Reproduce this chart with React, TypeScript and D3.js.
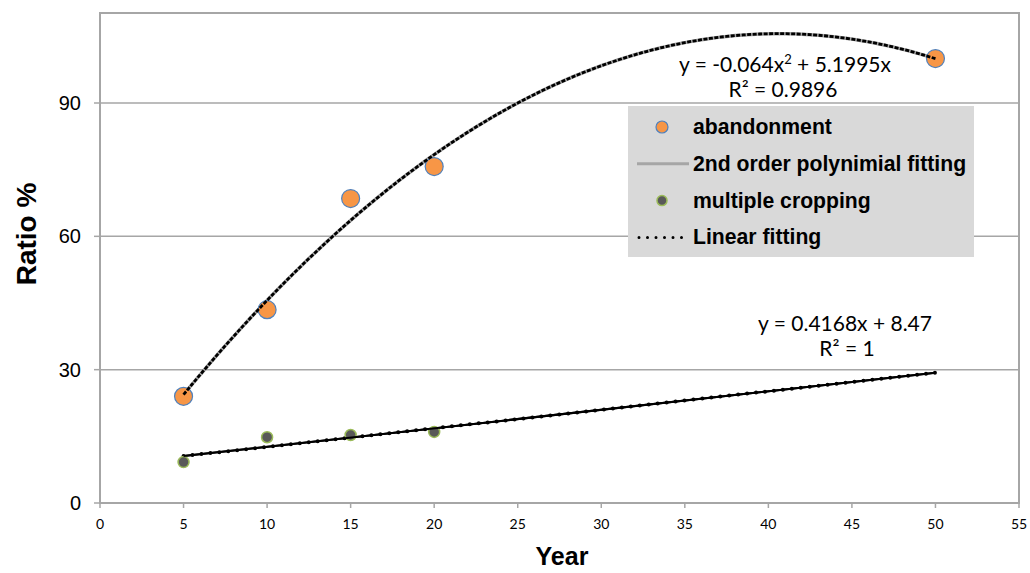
import React from "react";
import * as d3 from "d3";

const abandonYears = [5, 10, 15, 20, 50];
const abandonValues = [24, 43.5, 68.5, 75.7, 100];
const croppingYears = [5, 10, 15, 20];
const croppingValues = [9.2, 14.8, 15.3, 16.0];
const xTicks = [0, 5, 10, 15, 20, 25, 30, 35, 40, 45, 50, 55];
const yTicks = [0, 30, 60, 90];
const polyCoef = [-0.064, 5.1995];
const linCoef = [0.4168, 8.47];
const legendItems = ["abandonment", "2nd order polynimial fitting", "multiple cropping", "Linear fitting"];

const W = 1030, H = 573;
const L = 100, R = 1019, T = 13, B = 503;

export default function App() {
  const x = d3.scaleLinear().domain([0, 55]).range([L, R]);
  const y = d3.scaleLinear().domain([0, 110.25]).range([B, T]);

  const polyPts: [number, number][] = d3.range(5, 50.01, 0.5).map((v) => [v, polyCoef[0] * v * v + polyCoef[1] * v]);
  const linPts: [number, number][] = [5, 50].map((v) => [v, linCoef[0] * v + linCoef[1]]);
  const line = d3.line<[number, number]>().x((d) => x(d[0])).y((d) => y(d[1])).curve(d3.curveLinear);

  const eqFont = "Lato, 'Open Sans', sans-serif";
  const arial = "'Liberation Sans', Arial, sans-serif";
  const lx = 628, ly = 106;

  return (
    <svg width={W} height={H} style={{ position: "absolute", left: 0, top: 0, background: "#fff" }}>
      {yTicks.filter((t) => t > 0).map((t) => (
        <line key={"g" + t} x1={L} x2={R} y1={y(t)} y2={y(t)} stroke="#a6a6a6" strokeWidth={1.5} />
      ))}
      <rect x={L} y={T} width={R - L} height={B - T} fill="none" stroke="#a6a6a6" strokeWidth={2} />
      {yTicks.map((t) => (
        <g key={"y" + t}>
          <line x1={L - 6} x2={L} y1={y(t)} y2={y(t)} stroke="#a6a6a6" strokeWidth={1.5} />
          <text x={81} y={y(t) + 7} textAnchor="end" fontSize={20} fontFamily={arial} fill="#000">{t}</text>
        </g>
      ))}
      {xTicks.map((t) => (
        <g key={"x" + t}>
          <line x1={x(t)} x2={x(t)} y1={B} y2={B + 5} stroke="#a6a6a6" strokeWidth={1.5} />
          <text x={x(t)} y={529} textAnchor="middle" fontSize={14} fontFamily={eqFont} fill="#000">{t}</text>
        </g>
      ))}
      <text x={562} y={565} textAnchor="middle" fontSize={25} fontWeight="bold" fontFamily={arial}>Year</text>
      <text transform={`translate(36,${234}) rotate(-90)`} textAnchor="middle" fontSize={28} fontWeight="bold" fontFamily={arial}>Ratio %</text>

      <path d={line(polyPts) || ""} fill="none" stroke="#a6a6a6" strokeWidth={3.5} />
      <path d={line(linPts) || ""} fill="none" stroke="#000" strokeWidth={2} />
      <path d={line(linPts) || ""} fill="none" stroke="#000" strokeWidth={4} strokeDasharray="0,9" strokeLinecap="round" />

      {abandonYears.map((v, i) => (
        <circle key={"a" + i} cx={x(v)} cy={y(abandonValues[i])} r={9} fill="#f79646" stroke="#4f81bd" strokeWidth={1.2} />
      ))}
      {croppingYears.map((v, i) => (
        <circle key={"c" + i} cx={x(v)} cy={y(croppingValues[i])} r={5.5} fill="#595959" stroke="#9bbb59" strokeWidth={1.5} />
      ))}
      <path d={line(polyPts) || ""} fill="none" stroke="#000" strokeWidth={2.8} strokeDasharray="4,1.5" />
      <path d={line(linPts) || ""} fill="none" stroke="#000" strokeWidth={2} />

      <text x={785} y={72} textAnchor="middle" fontSize={21} fontFamily={eqFont} fill="#000">
        y = -0.064x<tspan dy={-8} fontSize={13}>2</tspan><tspan dy={8}> + 5.1995x</tspan>
      </text>
      <text x={783} y={97} textAnchor="middle" fontSize={21} fontFamily={eqFont} fill="#000">R² = 0.9896</text>
      <text x={845} y={331} textAnchor="middle" fontSize={21} fontFamily={eqFont} fill="#000">y = 0.4168x + 8.47</text>
      <text x={847} y={356} textAnchor="middle" fontSize={21} fontFamily={eqFont} fill="#000">R² = 1</text>

      <rect x={lx} y={ly} width={346} height={151} fill="#d9d9d9" />
      {legendItems.map((name, i) => {
        const cy = ly + 21 + i * 36.8;
        return (
          <g key={name}>
            {i === 0 && <circle cx={662} cy={cy} r={6} fill="#f79646" stroke="#4f81bd" strokeWidth={1.2} />}
            {i === 1 && <line x1={637} x2={689} y1={cy} y2={cy} stroke="#a6a6a6" strokeWidth={3} />}
            {i === 2 && <circle cx={662} cy={cy} r={5} fill="#595959" stroke="#9bbb59" strokeWidth={1.5} />}
            {i === 3 && <line x1={639} x2={689} y1={cy} y2={cy} stroke="#000" strokeWidth={3} strokeDasharray="0,8.5" strokeLinecap="round" />}
            <text x={693} y={cy + 7} fontSize={21.2} fontWeight="bold" fontFamily={arial} fill="#000">{name}</text>
          </g>
        );
      })}
    </svg>
  );
}
